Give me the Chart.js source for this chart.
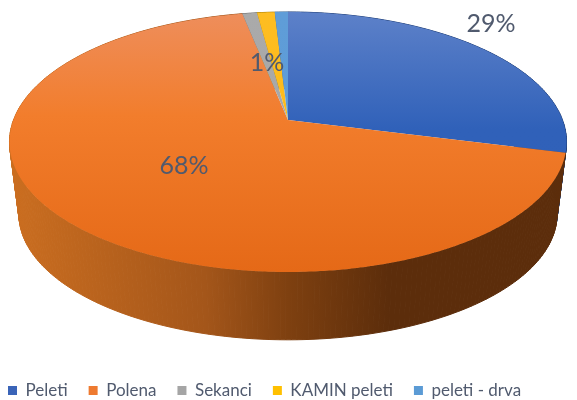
<!DOCTYPE html>
<html>
<head>
<meta charset="utf-8">
<script src="https://cdn.jsdelivr.net/npm/chart.js@4"></script>
<style>
html, body { margin: 0; padding: 0; background: #fff; }
canvas { display: block; }
</style>
</head>
<body>
<canvas id="grafikon" width="577" height="400"></canvas>
<script>
const kategorije = ['Peleti', 'Polena', 'Sekanci', 'KAMIN peleti', 'peleti - drva'];
const vrijednosti = [29, 67.9, 1, 1.2, 0.9];
const oznake = ['29%', '68%', '1%', '', ''];
const boje = ['#3a64b8', '#ee7a30', '#a5a5a5', '#ffc000', '#5b9bd5'];

// gornja ploha: gradijent po y, bocna stijena: gradijent po x
const bojeVrha = [
    [[0, '#5d81c9'], [0.45, '#3061b9'], [1, '#2f60b8']],
    [[0, '#ee8e5c'], [0.4, '#f27d2c'], [1, '#e56917']],
    [[0, '#aaaaaa'], [1, '#a5a5a5']],
    [[0, '#fdbd22'], [1, '#fdb90f']],
    [[0, '#5f9dd8'], [1, '#5b9bd5']]
];
const bojeStijene = [
    [[0, '#1f3f78'], [1, '#1f3f78']],
    [[0, '#cb6e20'], [0.35, '#a4561a'], [0.5, '#7e4010'], [0.68, '#5c2d0b'], [1, '#5c2d0b']],
    [[0, '#6a6a6a'], [1, '#6a6a6a']],
    [[0, '#a67c00'], [1, '#a67c00']],
    [[0, '#3a6590'], [1, '#3a6590']]
];
const poloziOznaka = [[491, 24], [184, 166], [267, 63]];

// perspektiva kruga: vrh i dno pite
const vrh = { x: 288, y: 120, a: 274.5, b: 126.3, p: 0.169 };
const dno = { x: 288, y: 193, a: 265.2, b: 122, p: 0.169 };

function projekcija(k, kut) {
    const w = 1 - k.p * Math.sin(kut);
    return [k.x + k.a * Math.cos(kut) / w, k.y + k.b * Math.sin(kut) / w];
}

function gradijent(ctx, x0, y0, x1, y1, stopovi) {
    const g = ctx.createLinearGradient(x0, y0, x1, y1);
    stopovi.forEach(function (s) { g.addColorStop(s[0], s[1]); });
    return g;
}

const pita3d = {
    id: 'pita3d',
    afterLayout(chart) {
        // legenda je u originalu nisko i pomaknuta ulijevo
        const l = chart.legend;
        l.left -= 13;
        l.right -= 13;
        l.top += 9;
        l.bottom += 9;
    },
    beforeDatasetsDraw(chart) {
        const ctx = chart.ctx;
        const lukovi = chart.getDatasetMeta(0).data;
        const korak = Math.PI / 180;

        ctx.save();
        lukovi.forEach(function (luk, i) {
            const g = gradijent(ctx, 10, 0, 567, 0, bojeStijene[i]);
            ctx.fillStyle = g;
            ctx.strokeStyle = g;
            ctx.lineWidth = 1;
            for (let t = luk.startAngle; t < luk.endAngle; t += korak) {
                const t2 = Math.min(t + korak, luk.endAngle);
                const a = projekcija(vrh, t), b = projekcija(vrh, t2);
                const c = projekcija(dno, t2), d = projekcija(dno, t);
                ctx.beginPath();
                ctx.moveTo(a[0], a[1]);
                ctx.lineTo(b[0], b[1]);
                ctx.lineTo(c[0], c[1]);
                ctx.lineTo(d[0], d[1]);
                ctx.closePath();
                ctx.fill();
                ctx.stroke();
            }
        });

        lukovi.forEach(function (luk, i) {
            ctx.beginPath();
            ctx.moveTo(vrh.x, vrh.y);
            for (let t = luk.startAngle; t < luk.endAngle; t += korak / 2) {
                const a = projekcija(vrh, t);
                ctx.lineTo(a[0], a[1]);
            }
            const kraj = projekcija(vrh, luk.endAngle);
            ctx.lineTo(kraj[0], kraj[1]);
            ctx.closePath();
            ctx.fillStyle = gradijent(ctx, 0, 12, 0, 272, bojeVrha[i]);
            ctx.fill();
        });

        ctx.fillStyle = '#505a6e';
        ctx.font = '25px Lato';
        ctx.textAlign = 'center';
        ctx.textBaseline = 'middle';
        oznake.forEach(function (o, i) {
            if (o) ctx.fillText(o, poloziOznaka[i][0], poloziOznaka[i][1]);
        });
        ctx.restore();
        return false;
    }
};

new Chart(document.getElementById('grafikon'), {
    type: 'pie',
    data: {
        labels: kategorije,
        datasets: [{
            data: vrijednosti,
            backgroundColor: boje,
            borderWidth: 0
        }]
    },
    options: {
        responsive: false,
        animation: false,
        devicePixelRatio: 1,
        plugins: {
            tooltip: { enabled: false },
            legend: {
                position: 'bottom',
                align: 'start',
                labels: {
                    boxWidth: 9,
                    boxHeight: 9,
                    padding: 21,
                    color: '#505a6e',
                    font: { family: 'Lato', size: 17 }
                }
            }
        }
    },
    plugins: [pita3d]
});
</script>
</body>
</html>
